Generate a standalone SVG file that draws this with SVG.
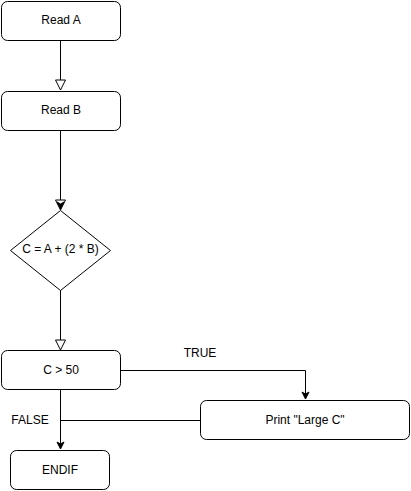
<svg xmlns="http://www.w3.org/2000/svg" width="411" height="491" viewBox="0 0 411 491">
<style>
.box{fill:#fff;stroke:#000;stroke-width:1}
.t{font-family:"Liberation Sans",Arial,sans-serif;font-size:12px;fill:#000;text-anchor:middle;dominant-baseline:central}
.c{fill:none;stroke:#000;stroke-width:1}
.open{fill:#fff;stroke:#000;stroke-width:1}
.fill{fill:#000;stroke:#000;stroke-width:1}
</style>
<rect width="411" height="491" fill="#fff"/>
<g id="connectors">
<line class="c" x1="60.5" y1="40" x2="60.5" y2="80"/>
<path class="open" d="M55.5,80 L65.5,80 L60.5,90 Z"/>
<line class="c" x1="60.5" y1="130" x2="60.5" y2="200"/>
<path class="open" d="M55.5,200 L65.5,200 L60.5,210 Z"/>
<path class="fill" d="M57,202 L60.5,209 L64,202 L60.5,204 Z"/>
<line class="c" x1="60.5" y1="290" x2="60.5" y2="340"/>
<path class="open" d="M55.5,340 L65.5,340 L60.5,350 Z"/>
<path class="c" d="M120,370.5 L305.5,370.5 L305.5,394"/>
<path class="fill" d="M302,392 L305.5,399 L309,392 L305.5,394 Z"/>
<line class="c" x1="60.5" y1="390" x2="60.5" y2="444"/>
<path class="fill" d="M57,442 L60.5,449 L64,442 L60.5,444 Z"/>
<line class="c" x1="200" y1="420.5" x2="60.5" y2="420.5"/>
<text class="t" x="200" y="353">TRUE</text>
<text class="t" x="30" y="420">FALSE</text>
</g>
<g id="readA"><rect class="box" x="1.5" y="1.5" width="119" height="39" rx="6"/><text class="t" x="61" y="20">Read A</text></g>
<g id="readB"><rect class="box" x="1.5" y="91.5" width="119" height="39" rx="6"/><text class="t" x="61" y="110">Read B</text></g>
<g id="calc"><path class="box" d="M60.5,210.5 L110.5,250.5 L60.5,290.5 L10.5,250.5 Z"/><text class="t" x="60.5" y="249">C = A + (2 * B)</text></g>
<g id="cond"><rect class="box" x="1.5" y="350.5" width="119" height="39" rx="6"/><text class="t" x="61" y="370">C &gt; 50</text></g>
<g id="print"><rect class="box" x="200.5" y="400.5" width="209" height="39" rx="6"/><text class="t" x="305" y="420">Print "Large C"</text></g>
<g id="endif"><rect class="box" x="10.5" y="450.5" width="99" height="39" rx="6"/><text class="t" x="60" y="470">ENDIF</text></g>
</svg>
